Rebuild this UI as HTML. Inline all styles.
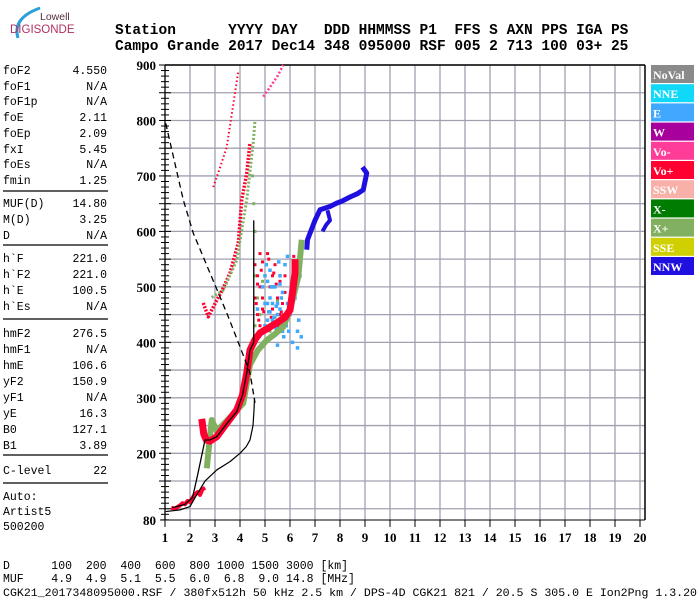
<!DOCTYPE html>
<html><head><meta charset="utf-8"><style>
body{margin:0;background:#fff;width:700px;height:600px;overflow:hidden}
svg{display:block}
.mono{font-family:"Liberation Mono",monospace}
.hdr{font-family:"Liberation Mono",monospace;font-weight:bold;font-size:14.5px}
.lp{font-family:"Liberation Mono",monospace;font-size:11.5px}
.tk{font-family:"Liberation Serif",serif;font-weight:bold;font-size:13px}
.lg{font-family:"Liberation Serif",serif;font-weight:bold;font-size:12px;fill:#fff}
</style></head><body>
<svg id="chart" width="700" height="600" viewBox="0 0 700 600">
<g>
<path d="M18 38 Q12 18 40 8" stroke="#2aa0d8" stroke-width="3" fill="none"/>
<text x="40" y="20" font-family="Liberation Sans,sans-serif" font-size="10.5" fill="#553040">Lowell</text>
<text x="10" y="33" font-family="Liberation Sans,sans-serif" font-size="11.5" fill="#b03060">DIGISONDE</text>
</g>
<g>
<text class="hdr" x="115" y="34" xml:space="preserve">Station      YYYY DAY   DDD HHMMSS P1  FFS S AXN PPS IGA PS</text>
<text class="hdr" x="115" y="50" xml:space="preserve">Campo Grande 2017 Dec14 348 095000 RSF 005 2 713 100 03+ 25</text>
</g>
<g id="leftpanel"></g>
<g id="grid"></g>
<g id="axes"></g>
<g id="marks"></g>
<g id="legend"></g>
<g>
<text class="mono" font-size="11.5" x="3" y="569" xml:space="preserve">D      100  200  400  600  800 1000 1500 3000 [km]</text>
<text class="mono" font-size="11.5" x="3" y="582" xml:space="preserve">MUF    4.9  4.9  5.1  5.5  6.0  6.8  9.0 14.8 [MHz]</text>
<text class="mono" font-size="11" x="3" y="596" textLength="694" lengthAdjust="spacingAndGlyphs">CGK21_2017348095000.RSF / 380fx512h 50 kHz 2.5 km / DPS-4D CGK21 821 / 20.5 S 305.0 E Ion2Png 1.3.20</text>
</g>
</svg>
<script>
const NS="http://www.w3.org/2000/svg";
const xTicks=[1,2,3,4,5,6,7,8,9,10,11,12,13,14,15,16,17,18,19,20];
const yTicks=[900,800,700,600,500,400,300,200,80];
const paramNames=["foF2","foF1","foF1p","foE","foEp","fxI","foEs","fmin","MUF(D)","M(D)","D","h`F","h`F2","h`E","h`Es","hmF2","hmF1","hmE","yF2","yF1","yE","B0","B1","C-level"];
const paramValues=["4.550","N/A","N/A","2.11","2.09","5.45","N/A","1.25","14.80","3.25","N/A","221.0","221.0","100.5","N/A","276.5","N/A","106.6","150.9","N/A","16.3","127.1","3.89","22"];
const legendNames=["NoVal","NNE","E","W","Vo-","Vo+","SSW","X-","X+","SSE","NNW"];
const legendColors=["#8a8a8a","#10d8f8","#40a8ff","#a8009c","#ff3c98","#ff0030","#f8b0a8","#007c00","#80b060","#d0d000","#2010e0"];
const voMainF=[2.47,2.55,2.65,2.8,3.07,3.4,3.87,4.1,4.27,4.4,4.6,4.8,5.1,5.47,5.8,6.0,6.1,6.2,6.2];
const voMainH=[262,235,224,222,230,250,278,305,345,386,405,417,425,435,445,458,490,525,550];
const voUpperF=[2.53,2.73,3.07,3.3,3.6,3.93,4.07,4.27,4.4];
const voUpperH=[471,446,476,495,525,579,657,705,760];
const voTopF=[2.93,3.2,3.47,3.7,3.93];
const voTopH=[680,715,752,820,888];
const xMainF=[2.67,2.8,2.87,3.07,3.5,4.13,4.4,4.7,5.07,5.4,5.73,6.0,6.33,6.47];
const xMainH=[173,230,260,240,260,290,360,385,404,415,428,458,518,585];
const xUpperF=[2.87,3.33,3.87,4.27,4.53,4.6];
const xUpperH=[481,494,548,657,760,800];
const pinkTopF=[4.93,5.2,5.5,5.73];
const pinkTopH=[843,860,880,900];
const nnwF=[6.67,6.7,7.0,7.2,7.6,7.87,8.1,8.4,8.7,8.93,9.07,8.9];
const nnwH=[567,585,620,639,645,651,655,662,668,675,705,716];
const nnwBranchF=[7.3,7.45,7.6,7.5];
const nnwBranchH=[600,612,620,638];
const eCloudF=[4.7,4.9,5.0,5.1,5.2,5.3,5.4,5.5,5.6,5.7,5.8,5.9,4.8,5.0,5.2,5.4,5.6,5.8,6.0,6.2,6.3,6.4,5.1,5.3,5.5,5.7,5.9,5.5,5.3,5.2,6.1,6.3,5.0,5.15,5.35,5.45,5.65,5.75,5.85,5.95,5.25,5.55,5.05,5.45,5.65,6.35,6.45,5.9,5.1,5.6];
const eCloudH=[460,500,520,440,480,470,430,450,520,490,540,470,420,430,455,500,460,430,450,480,420,520,470,440,395,420,450,470,500,530,400,390,470,455,445,425,440,410,430,420,500,545,540,465,480,440,410,555,510,505];
const redCloudF=[4.6,4.7,4.8,4.9,5.0,5.1,5.2,5.3,5.4,5.5,5.6,5.7,5.8,4.7,4.9,5.1,5.3,5.5,5.7,4.8,5.0,5.2,5.4,5.6,5.8,4.6,4.8,5.0,4.65,4.75,4.85,4.95,5.25,5.35,5.45,5.65,4.7,4.9,5.15,5.5,5.75,6.15,6.15];
const redCloudH=[540,520,500,480,520,560,500,460,540,480,510,470,490,450,460,440,520,420,440,560,470,480,500,450,520,480,430,420,470,440,530,455,445,525,505,455,505,545,550,430,450,520,555];
const greenCloudF=[4.6,4.8,5.0,5.2,5.4,5.6,4.7,4.9,5.3,5.5,4.6,4.55,4.6,4.5];
const greenCloudH=[430,450,470,420,445,430,480,510,500,475,520,650,600,700];
const eLayerF=[1.25,1.4,1.5,1.6,1.7,1.8,1.9,2.0,2.1,2.2,2.3,2.4,2.5,2.6];
const eLayerH=[102,100,103,106,110,108,114,112,120,126,130,125,135,138];
const profileF=[1.03,1.6,2.0,2.2,2.6,3.07,3.6,4.0,4.25,4.4,4.52,4.56,4.58];
const profileH=[95,98,104,120,150,170,185,200,212,224,250,278,300];
const traceF=[1.3,1.8,2.1,2.3,2.6,2.8,3.07,3.5,3.87,4.1,4.27,4.4,4.55,4.55];
const traceH=[102,108,120,160,224,224,230,255,275,305,345,386,400,620];
const mufF=[1.03,1.73,2.13,2.8,3.47,4.0,4.4,4.6];
const mufH=[795,657,597,525,453,392,345,291];

const fx=f=>165+(f-1)*25;
const hy=h=>65+(900-h)*0.5547;
function el(tag,attrs,parent){const e=document.createElementNS(NS,tag);for(const k in attrs)e.setAttribute(k,attrs[k]);parent.appendChild(e);return e;}

const lp=document.getElementById('leftpanel');
const rowY=[70,86,101,117,133,149,164,180,203,219,235,258,274,290,306,333,349,365,381,397,413,429,445,470];
paramNames.forEach((n,i)=>{
 const t=el('text',{class:'lp',x:3,y:rowY[i]+4},lp);t.textContent=n;
 
 
 const v=el('text',{class:'lp',x:107,y:rowY[i]+4,'text-anchor':'end'},lp);v.textContent=paramValues[i];
 
 
});
[191,245,319,455,483].forEach(y=>{const l=el('line',{x1:3,x2:108,y1:y,y2:y,stroke:'#000','stroke-width':1.2},lp);
 
 });
[["Auto:",496],["Artist5",511],["500200",526]].forEach(a=>{const t=el('text',{class:'lp',x:3,y:a[1]+4},lp);t.textContent=a[0];
 
 });

const g=document.getElementById('grid');
for(let h=100;h<=900;h+=50){const l=el('line',{x1:165,x2:645,y1:hy(h),y2:hy(h),stroke:'#a0a0b0','stroke-width':1.3},g);
 
 }
xTicks.forEach(f=>{if(f>1){const l=el('line',{x1:fx(f),x2:fx(f),y1:65,y2:520,stroke:'#a0a0b0','stroke-width':1.3},g);
 
 }});

const ax=document.getElementById('axes');
el('line',{x1:165,x2:165,y1:65,y2:520,stroke:'#000','stroke-width':1.3},ax);
el('line',{x1:165,x2:645,y1:65,y2:65,stroke:'#000','stroke-width':1.5},ax);
el('line',{x1:645,x2:645,y1:65,y2:520,stroke:'#000','stroke-width':1.5},ax);
el('line',{x1:160,x2:645,y1:520,y2:520,stroke:'#000','stroke-width':1},ax);
for(let h=80;h<=900;h+=10){const len=(h%50===0)?6:4;el('line',{x1:165-len,x2:165+len,y1:hy(h),y2:hy(h),stroke:'#000','stroke-width':1},ax);}
yTicks.forEach(h=>{const t=el('text',{class:'tk',x:156,y:hy(h)+5,'text-anchor':'end'},ax);t.textContent=h;
 
 });
xTicks.forEach(f=>{el('line',{x1:fx(f),x2:fx(f),y1:520,y2:527,stroke:'#000','stroke-width':1},ax);
 const t=el('text',{class:'tk',x:fx(f),y:542,'text-anchor':'middle'},ax);t.textContent=f;
 
 });

const m=document.getElementById('marks');
function pts(F,H){return F.map((f,i)=>fx(f)+','+hy(H[i])).join(' ');}
function line(F,H,attrs,name){const p=el('polyline',Object.assign({points:pts(F,H),fill:'none','stroke-linejoin':'round'},attrs),m);
 
 return p;}
function dots(F,H,color,size,name){F.forEach((f,i)=>{const r=el('rect',{x:fx(f)-size/2,y:hy(H[i])-size/2,width:size,height:size,fill:color},m);
 
 });}
dots(greenCloudF,greenCloudH,'#80b060',3,'x-plus-scatter');
dots(redCloudF,redCloudH,'#ff0030',3,'vo-plus-scatter');
dots(eCloudF,eCloudH,'#40a8ff',3.5,'e-scatter');
line(xMainF,xMainH,{stroke:'#80b060','stroke-width':6},'x-plus-trace');
line(voMainF,voMainH,{stroke:'#ff0030','stroke-width':7},'vo-plus-trace');
line(voUpperF,voUpperH,{stroke:'#ff0030','stroke-width':3.5,'stroke-dasharray':'2 1.5'},'vo-plus-second-hop');
line(xUpperF,xUpperH,{stroke:'#80b060','stroke-width':3,'stroke-dasharray':'2 2'},'x-plus-second-hop');
line(voTopF,voTopH,{stroke:'#ff0030','stroke-width':2,'stroke-dasharray':'1.5 2.5'},'vo-plus-third-hop');
line(pinkTopF,pinkTopH,{stroke:'#ff3c98','stroke-width':2.5,'stroke-dasharray':'2 2'},'vo-minus-top');
line(eLayerF,eLayerH,{stroke:'#ff0030','stroke-width':4},'e-layer-trace');
line(nnwF,nnwH,{stroke:'#2010e0','stroke-width':5},'nnw-trace');
line(nnwBranchF,nnwBranchH,{stroke:'#2010e0','stroke-width':4},'nnw-branch');
line(profileF,profileH,{stroke:'#000','stroke-width':1.2},'density-profile');
line(traceF,traceH,{stroke:'#000','stroke-width':1.3},'auto-scaled-trace');
line(mufF,mufH,{stroke:'#000','stroke-width':1.3,'stroke-dasharray':'6 4'},'muf-curve');

const lg=document.getElementById('legend');
legendNames.forEach((n,i)=>{const y=65+i*19.2;
 const r=el('rect',{x:651,y:y,width:43,height:18,fill:legendColors[i]},lg);
 
 
 const t=el('text',{class:'lg',x:653,y:y+14},lg);t.textContent=n;
 
 });
</script>
</body></html>
